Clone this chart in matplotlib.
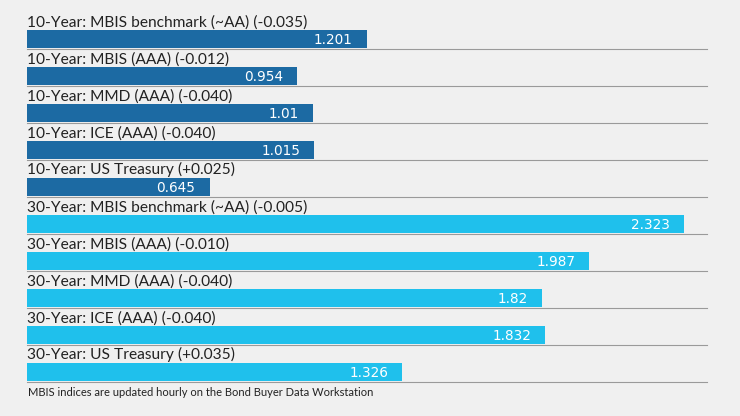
import matplotlib.pyplot as plt

labels = [
    "10-Year: MBIS benchmark (~AA) (-0.035)",
    "10-Year: MBIS (AAA) (-0.012)",
    "10-Year: MMD (AAA) (-0.040)",
    "10-Year: ICE (AAA) (-0.040)",
    "10-Year: US Treasury (+0.025)",
    "30-Year: MBIS benchmark (~AA) (-0.005)",
    "30-Year: MBIS (AAA) (-0.010)",
    "30-Year: MMD (AAA) (-0.040)",
    "30-Year: ICE (AAA) (-0.040)",
    "30-Year: US Treasury (+0.035)",
]
values = [1.201, 0.954, 1.01, 1.015, 0.645, 2.323, 1.987, 1.82, 1.832, 1.326]
value_text = ["1.201", "0.954", "1.01", "1.015", "0.645", "2.323", "1.987", "1.82", "1.832", "1.326"]
groups = ["10"] * 5 + ["30"] * 5

colors = {"10": "#1c6aa3", "30": "#1fc0ec"}
bg = "#f0f0f0"

plt.rcParams['font.family'] = ['Lato', 'DejaVu Sans']

W, H = 740, 416
fig = plt.figure(figsize=(W / 100, H / 100), dpi=100, facecolor=bg)
# axes spans x 27..707 px, y 12..382 px
ax = fig.add_axes([27 / W, 1 - 382 / H, 680 / W, 370 / H])
ax.set_facecolor(bg)
ax.set_xlim(0, 680 / 283)
ax.set_ylim(10, 0)
ax.axis('off')

for i, (lab, v, vt, g) in enumerate(zip(labels, values, value_text, groups)):
    ax.barh(i + 0.73, v, height=0.49, color=colors[g], align='center')
    ax.text(0, i + 0.39, lab, ha='left', va='baseline', fontsize=11.2, color='#222222')
    ax.text(v - 0.05, i + 0.75, vt, ha='right', va='center', fontsize=9.8,
            color='white', family='DejaVu Sans')
    ax.axhline(i + 1, color='#9a9a9a', lw=0.8, xmin=0, xmax=1, clip_on=False)

fig.text(28 / W, 1 - 393 / H, "MBIS indices are updated hourly on the Bond Buyer Data Workstation",
         ha='left', va='center', fontsize=8, color='#222222')

fig.savefig("out.png", dpi=100, facecolor=bg)
